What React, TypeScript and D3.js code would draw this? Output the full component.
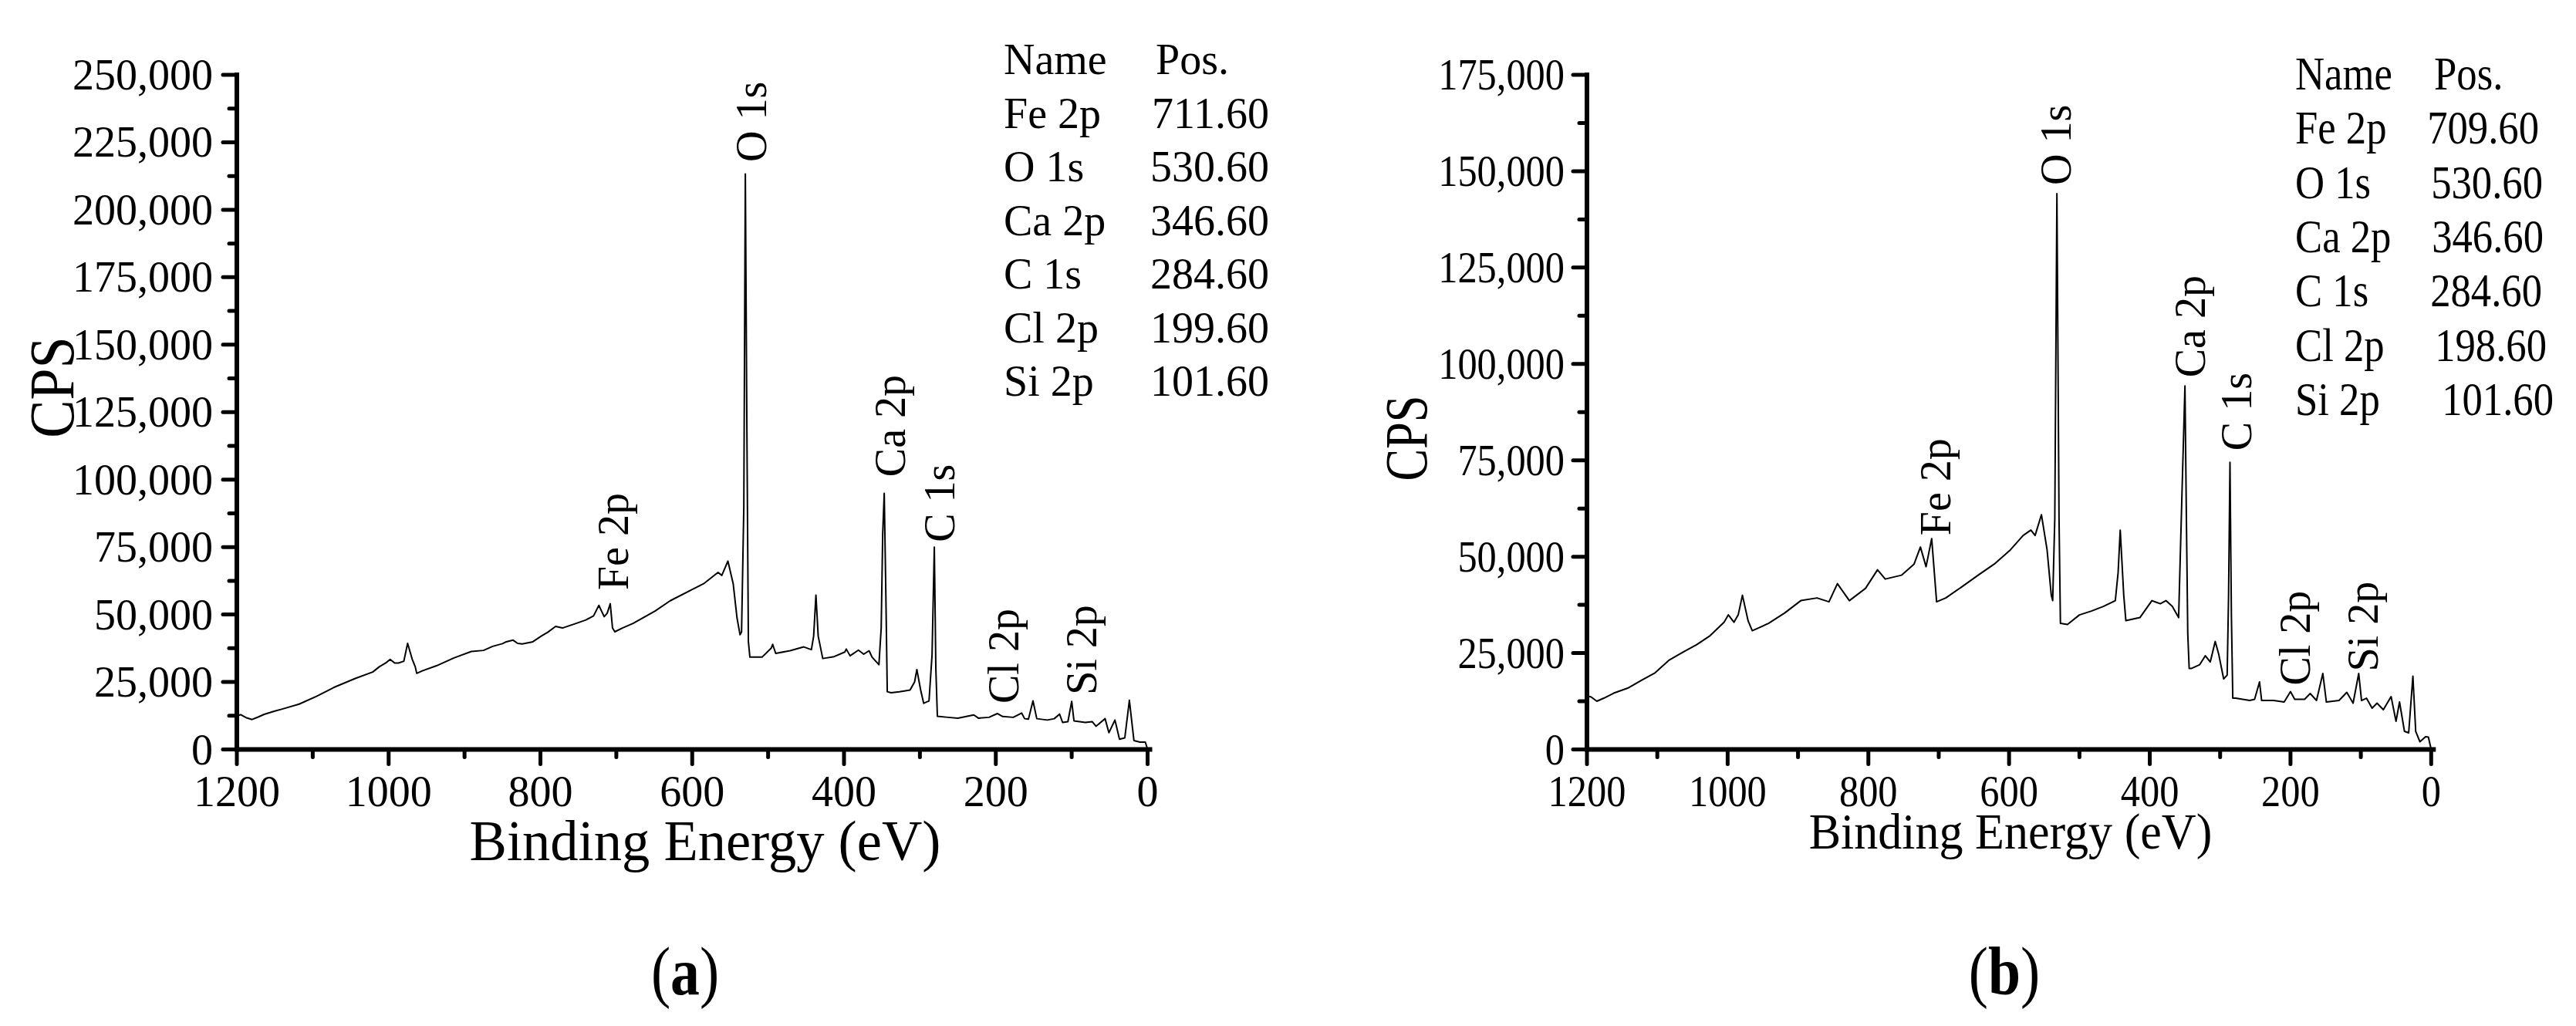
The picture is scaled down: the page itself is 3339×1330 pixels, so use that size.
import React from "react";
import * as d3 from "d3";

const FONT = "'Liberation Serif', 'Times New Roman', Times, serif";

// ---------- data ----------
const xTickValues = [1200, 1000, 800, 600, 400, 200, 0];
const xMinorValues = [1100, 900, 700, 500, 300, 100];
const yTicksA = [0, 25000, 50000, 75000, 100000, 125000, 150000, 175000, 200000, 225000, 250000];
const yTicksB = [0, 25000, 50000, 75000, 100000, 125000, 150000, 175000];

const peakNames = ["Fe 2p", "O 1s", "Ca 2p", "C 1s", "Cl 2p", "Si 2p"];
const peakPosA = ["711.60", "530.60", "346.60", "284.60", "199.60", "101.60"];
const peakPosB = ["709.60", "530.60", "346.60", "284.60", "198.60", "101.60"];

// label anchors (binding energy of text baseline, CPS at text start)
const labelBeA = [685, 503, 320, 255, 170, 68];
const labelCpsA = [59000, 217700, 101000, 76800, 17000, 20200];
const labelBeB = [684, 512, 322, 256, 173, 76];
const labelCpsB = [55500, 146400, 96500, 77500, 16600, 20200];

// spectrum (a)
const beA = [
  1200, 1195, 1188, 1180, 1172, 1164, 1150, 1141, 1118, 1095, 1072, 1044, 1021, 1012, 1003, 998,
  992, 987, 980, 975, 969, 965, 963, 955, 937, 914, 891, 875, 863, 850, 845, 836, 830, 824, 810,
  799, 790, 780, 771, 753, 740, 730, 723, 716, 712, 708, 705, 702, 692, 678, 649, 629, 600, 585,
  566, 561, 553, 546, 541, 537, 535, 532, 530, 528, 526, 524, 522, 508, 496, 494, 490, 471, 453,
  443, 440, 437, 434, 428, 413, 399, 397, 392, 381, 374, 367, 363, 354, 351, 349, 347, 345, 343,
  338, 327, 313, 307, 304, 299, 295, 288, 284, 281, 279, 277, 263, 250, 229, 223, 209, 198, 191,
  177, 166, 162, 157, 151, 146, 132, 123, 116, 112, 105, 100, 97, 82, 73, 68, 56, 51, 43, 37, 30,
  24, 18, 10, 3, 0,
];
const cpsA = [
  12300, 12900, 11800, 11100, 12000, 13000, 14200, 14900, 16800, 19700, 23000, 26300, 28700, 30700,
  32200, 33400, 32000, 32000, 32700, 39300, 33500, 30700, 28200, 29200, 31000, 33900, 36300, 36700,
  38200, 39200, 39900, 40500, 39300, 39100, 39900, 42000, 43500, 45600, 45000, 46700, 48000, 49500,
  53400, 49200, 50500, 54000, 45000, 43600, 45000, 46700, 51300, 55100, 59300, 61400, 65600, 64500,
  69800, 61400, 48800, 42500, 43500, 90000, 213300, 120000, 40000, 34200, 34200, 34200, 37500,
  38950, 35600, 36600, 38000, 37000, 42000, 57200, 42000, 33700, 34400, 36100, 37200, 34700, 36800,
  35300, 36600, 34200, 31400, 45000, 80000, 94900, 60000, 21400, 21000, 21400, 22000, 25000, 29600,
  22000, 17100, 18000, 35000, 75000, 30000, 12300, 11900, 11600, 12800, 11600, 11900, 13300, 12200,
  11900, 13500, 11400, 11200, 18000, 11400, 10900, 11400, 13100, 10000, 10300, 17800, 10600, 10000,
  10300, 8600, 11400, 6200, 10900, 3800, 4300, 18200, 3300, 2700, 2700, 0,
];

// spectrum (b)
const beB = [
  1200, 1198, 1194, 1186, 1176, 1162, 1142, 1123, 1103, 1083, 1064, 1044, 1025, 1005, 999, 991,
  985, 979, 971, 965, 942, 919, 896, 873, 856, 844, 827, 804, 787, 776, 753, 735, 726, 718, 710,
  703, 690, 667, 644, 621, 598, 580, 569, 563, 554, 546, 540, 538, 535, 532, 529, 527, 517, 500,
  483, 466, 449, 445, 442, 437, 434, 414, 397, 385, 377, 368, 359, 354, 350, 348, 346, 344, 341,
  329, 321, 314, 307, 302, 295, 290, 288, 286, 284, 282, 278, 268, 258, 251, 244, 241, 224, 209,
  200, 194, 180, 172, 163, 154, 149, 131, 120, 111, 103, 99, 92, 84, 77, 68, 57, 50, 45, 38, 32,
  26, 22, 16, 8, 4, 0,
];
const cpsB = [
  13000, 13800, 13600, 12500, 13300, 14600, 15900, 17900, 19900, 23200, 25200, 27200, 29500, 33000,
  34900, 33000, 34900, 40000, 33400, 30800, 32700, 35400, 38600, 39300, 38300, 43000, 38600, 41800,
  46600, 44200, 45200, 48100, 52500, 47400, 54700, 38300, 39300, 42200, 45200, 48100, 51800, 55500,
  56900, 55500, 60900, 51800, 40000, 38600, 60000, 144200, 60000, 32700, 32400, 34900, 35900,
  37100, 38600, 45900, 56900, 40000, 33400, 34200, 38600, 37800, 38600, 37100, 34200, 67900, 94300,
  60600, 30000, 21000, 21000, 22000, 24300, 22700, 28000, 24700, 18300, 19300, 40000, 74500, 35000,
  13300, 13300, 13000, 12700, 13000, 17500, 12700, 12700, 12300, 15000, 13000, 13000, 14500, 12700,
  19700, 12300, 12700, 14800, 12000, 19700, 12700, 13300, 10700, 12000, 10300, 13700, 7300, 12300,
  4700, 4300, 19000, 4700, 2000, 3300, 3200, 0,
];

// ---------- helpers ----------
type TP = {
  x: number; y: number; rot?: number; sx?: number; size: number; anchor?: string; weight?: string;
  children: React.ReactNode;
};
function T({ x, y, rot = 0, sx = 1, size, anchor = "start", weight = "normal", children }: TP) {
  return (
    <text
      transform={`translate(${x},${y}) rotate(${rot}) scale(${sx},1)`}
      fontSize={size}
      fontFamily={FONT}
      fontWeight={weight}
      textAnchor={anchor}
      fill="#000"
    >
      {children}
    </text>
  );
}

type PanelCfg = {
  x0: number; x1: number; y0: number; y1: number; yMax: number; yTicks: number[];
  be: number[]; cps: number[]; labelBe: number[]; labelCps: number[]; pos: string[];
  tickSize: number; tickSx: number; ylabRight: number;
  titleX: number; titleY: number; titleSize: number; titleSx: number;
  cpsX: number; cpsY: number; cpsSize: number; cpsSx: number;
  legX: number; legPosX: number; legNumR: number; legY: number; legDy: number; legSize: number; legSx: number;
  numDx: number[];
  peakSize: number;
  tag: string; tagX: number;
};

function Panel({ c }: { c: PanelCfg }) {
  const x = d3.scaleLinear().domain([1200, 0]).range([c.x0, c.x1]);
  const y = d3.scaleLinear().domain([0, c.yMax]).range([c.y0, c.y1]);
  const pts: [number, number][] = c.be.map((b, i) => [b, c.cps[i]]);
  const line = d3.line<[number, number]>().x((d) => x(d[0])).y((d) => y(d[1]));
  const fmt = d3.format(",");
  const yMinor = c.yTicks.slice(0, -1).map((v) => v + 12500);
  const AX = 6;
  return (
    <g>
      <path d={line(pts) || ""} fill="none" stroke="#000" strokeWidth={2} strokeLinejoin="round" />
      {/* axes */}
      <line x1={x(1200)} x2={x(0) + 6} y1={y(0)} y2={y(0)} stroke="#000" strokeWidth={AX} />
      <line x1={x(1200)} x2={x(1200)} y1={y(0) + 3} y2={y(c.yMax) - 3} stroke="#000" strokeWidth={AX} />
      {xTickValues.map((v) => (
        <line key={"xt" + v} x1={x(v)} x2={x(v)} y1={y(0)} y2={y(0) + 19} stroke="#000" strokeWidth={5} strokeLinecap="round" />
      ))}
      {xMinorValues.map((v) => (
        <line key={"xm" + v} x1={x(v)} x2={x(v)} y1={y(0)} y2={y(0) + 10} stroke="#000" strokeWidth={5} strokeLinecap="round" />
      ))}
      {c.yTicks.map((v) => (
        <line key={"yt" + v} x1={x(1200)} x2={x(1200) - 18} y1={y(v)} y2={y(v)} stroke="#000" strokeWidth={5} strokeLinecap="round" />
      ))}
      {yMinor.map((v) => (
        <line key={"ym" + v} x1={x(1200)} x2={x(1200) - 10} y1={y(v)} y2={y(v)} stroke="#000" strokeWidth={5} strokeLinecap="round" />
      ))}
      {xTickValues.map((v) => (
        <T key={"xl" + v} x={x(v)} y={1037} size={c.tickSize} sx={c.tickSx} anchor="middle">{String(v)}</T>
      ))}
      {c.yTicks.map((v) => (
        <T key={"yl" + v} x={c.ylabRight} y={y(v) + 19} size={c.tickSize} sx={c.tickSx} anchor="end">{fmt(v)}</T>
      ))}
      <T x={c.titleX} y={c.titleY} size={c.titleSize} sx={c.titleSx} anchor="middle">Binding Energy (eV)</T>
      <T x={c.cpsX} y={c.cpsY} rot={-90} size={c.cpsSize} sx={c.cpsSx} anchor="middle">CPS</T>
      {peakNames.map((n, i) => (
        <T key={"pk" + n} x={x(c.labelBe[i])} y={y(c.labelCps[i])} rot={-90} size={c.peakSize} anchor="start">{n}</T>
      ))}
      <T x={c.legX} y={c.legY} size={c.legSize} sx={c.legSx}>Name</T>
      <T x={c.legPosX} y={c.legY} size={c.legSize} sx={c.legSx}>Pos.</T>
      {peakNames.map((n, i) => (
        <g key={"lg" + n}>
          <T x={c.legX} y={c.legY + (i + 1) * c.legDy} size={c.legSize} sx={c.legSx}>{n}</T>
          <T x={c.legNumR + c.numDx[i]} y={c.legY + (i + 1) * c.legDy} size={c.legSize} sx={c.legSx} anchor="end">{c.pos[i]}</T>
        </g>
      ))}
      <text
        transform={`translate(${c.tagX},1281) scale(0.86,1)`}
        fontSize={88}
        fontFamily={FONT}
        textAnchor="middle"
      >
        (<tspan fontWeight="bold">{c.tag}</tspan>)
      </text>
    </g>
  );
}

const panelA: PanelCfg = {
  x0: 299, x1: 1479.5, y0: 963.5, y1: 89, yMax: 250000, yTicks: yTicksA,
  be: beA, cps: cpsA, labelBe: labelBeA, labelCps: labelCpsA, pos: peakPosA,
  tickSize: 56, tickSx: 1, ylabRight: 268,
  titleX: 906, titleY: 1107, titleSize: 74, titleSx: 0.98,
  cpsX: 87, cpsY: 494, cpsSize: 82, cpsSx: 0.9,
  legX: 1293, legPosX: 1490, legNumR: 1637, legY: 88, legDy: 69.5, legSize: 56, legSx: 1,
  numDx: [0, 0, 0, 0, 0, 0],
  peakSize: 56,
  tag: "a", tagX: 880,
};

const panelB: PanelCfg = {
  x0: 2049, x1: 3143.3, y0: 963.5, y1: 89, yMax: 175000, yTicks: yTicksB,
  be: beB, cps: cpsB, labelBe: labelBeB, labelCps: labelCpsB, pos: peakPosB,
  tickSize: 56, tickSx: 0.9, ylabRight: 2020,
  titleX: 2598, titleY: 1092, titleSize: 66, titleSx: 0.94,
  cpsX: 1841, cpsY: 560, cpsSize: 78, cpsSx: 0.8,
  legX: 2967, legPosX: 3147, legNumR: 3286, legY: 108, legDy: 70.3, legSize: 62, legSx: 0.85,
  numDx: [-3, 2, 3, 1, 7, 16],
  peakSize: 56,
  tag: "b", tagX: 2590,
};

export default function App() {
  return (
    <svg width={3339} height={1330} viewBox="0 0 3339 1330" style={{ display: "block", background: "#fff" }}>
      <rect width={3339} height={1330} fill="#fff" />
      <Panel c={panelA} />
      <Panel c={panelB} />
    </svg>
  );
}
